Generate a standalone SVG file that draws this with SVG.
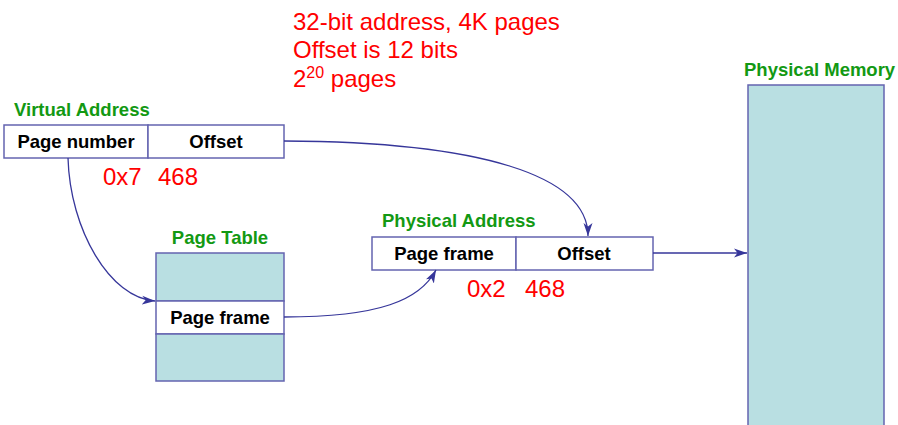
<svg xmlns="http://www.w3.org/2000/svg" width="898" height="425" viewBox="0 0 898 425">
  <style>
    .box { fill: #ffffff; stroke: #6464b0; stroke-width: 1.5; }
    .mem { fill: #b9dfe2; stroke: #6464b0; stroke-width: 1.5; }
    .cell { font-family: "Liberation Sans", Arial, sans-serif; font-weight: bold; font-size: 18.5px; fill: #000000; text-anchor: middle; }
    .title { font-family: "Liberation Sans", Arial, sans-serif; font-weight: bold; font-size: 18.5px; fill: #139913; }
    .note { font-family: "Liberation Sans", Arial, sans-serif; font-size: 24px; fill: #ff0000; }
    .conn { fill: none; stroke: #36369a; stroke-width: 1.3; marker-end: url(#arrow); }
  </style>
  <defs>
    <marker id="arrow" markerWidth="14" markerHeight="10" refX="13" refY="5" orient="auto" markerUnits="userSpaceOnUse">
      <path d="M0,0.5 L13,5 L0,9.5 L3.5,5 Z" fill="#36369a"/>
    </marker>
  </defs>

  <!-- notes -->
  <g id="notes">
    <text class="note" x="293" y="30">32-bit address, 4K pages</text>
    <text class="note" x="293" y="58">Offset is 12 bits</text>
    <text class="note" x="293" y="87">2<tspan font-size="16" dy="-9">20</tspan><tspan dy="9"> pages</tspan></text>
  </g>

  <!-- virtual address -->
  <g id="virtual-address">
    <text class="title" x="14" y="116">Virtual Address</text>
    <rect class="box" x="4" y="125" width="144" height="33"/>
    <rect class="box" x="148" y="125" width="136" height="33"/>
    <text class="cell" x="76" y="148">Page number</text>
    <text class="cell" x="216" y="148">Offset</text>
    <text class="note" x="103" y="185">0x7</text>
    <text class="note" x="158" y="185">468</text>
  </g>

  <!-- page table -->
  <g id="page-table">
    <text class="title" x="220" y="244" text-anchor="middle">Page Table</text>
    <rect class="mem" x="156" y="253" width="128" height="48"/>
    <rect class="box" x="156" y="301" width="128" height="33"/>
    <rect class="mem" x="156" y="334" width="128" height="47"/>
    <text class="cell" x="220" y="324">Page frame</text>
  </g>

  <!-- physical address -->
  <g id="physical-address">
    <text class="title" x="382" y="227">Physical Address</text>
    <rect class="box" x="372" y="237" width="144" height="33"/>
    <rect class="box" x="516" y="237" width="137" height="33"/>
    <text class="cell" x="444" y="260">Page frame</text>
    <text class="cell" x="584" y="260">Offset</text>
    <text class="note" x="467" y="297">0x2</text>
    <text class="note" x="525" y="297">468</text>
  </g>

  <!-- physical memory -->
  <g id="physical-memory">
    <text class="title" x="744" y="76">Physical Memory</text>
    <rect class="mem" x="748" y="85" width="136" height="345"/>
  </g>

  <!-- connectors -->
  <g id="connectors">
    <path class="conn" d="M68,158 C70,230 110,298 155,301"/>
    <path class="conn" d="M284,141 C480,142 588,175 588,236"/>
    <path class="conn" d="M284,317 C380,317 420,300 436,270"/>
    <path class="conn" d="M653,253 L747,253"/>
  </g>
</svg>
